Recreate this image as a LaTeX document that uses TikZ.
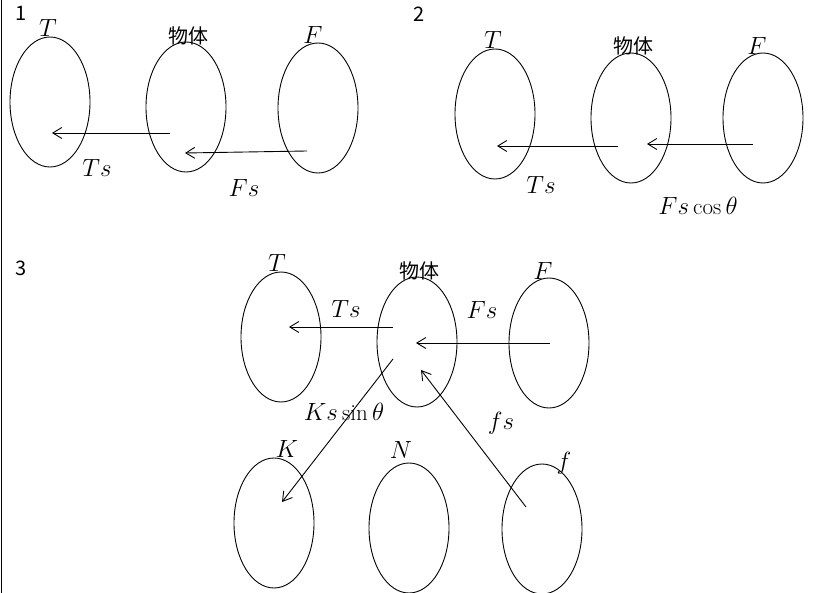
\documentclass[tikz,border=0pt]{standalone}
\usepackage{fontspec}
\newfontfamily\jp{Noto Sans CJK JP}
\usetikzlibrary{arrows.meta,shapes.geometric}

\begin{document}
\begin{tikzpicture}[x=1pt,y=-1pt,
  el/.style={draw,ellipse,line width=0.9pt,minimum width=80pt,minimum height=130pt,inner sep=0pt},
  lb/.style={inner sep=0pt,font=\fontsize{23}{27}\selectfont},
  jl/.style={inner sep=0pt,font=\fontsize{20}{24}\selectfont\jp},
  ar/.style={-{Straight Barb[length=9pt,width=11pt,line width=0.9pt]},line width=0.9pt}]
\useasboundingbox (0,0) rectangle (817,593);
\draw[line width=1.5pt] (1.5,0) -- (1.5,593);
% 1
\node[jl] (no1) at (21,13)  {1};
\node[el] (t1) at (50,102)  {};
\node[el] (b1) at (186,107) {};
\node[el] (f1) at (318,108) {};
\node[lb] (tn1) at (48,28)  {$T$};
\node[jl] (bn1) at (188,36) {物体};
\node[lb] (fn1) at (313,35) {$F$};
\coordinate (b1a) at (170,133);
\coordinate (t1a) at (52,133);
\coordinate (f1a) at (307,151);
\coordinate (b1b) at (185,153);
\draw[ar] (b1a) -- (t1a);
\draw[ar] (f1a) -- (b1b);
\node[lb] (ts1) at (97,168)  {$Ts$};
\node[lb] (fs1) at (244,188) {$Fs$};
% 2
\node[jl] (no2) at (419,14)  {2};
\node[el] (t2) at (495,114) {};
\node[el] (b2) at (631,118) {};
\node[el] (f2) at (763,118) {};
\node[lb] (tn2) at (493,40)  {$T$};
\node[jl] (bn2) at (633,46) {物体};
\node[lb] (fn2) at (757,46) {$F$};
\coordinate (b2a) at (618,146);
\coordinate (t2a) at (497,146);
\coordinate (f2a) at (753,144);
\coordinate (b2b) at (647,144);
\draw[ar] (b2a) -- (t2a);
\draw[ar] (f2a) -- (b2b);
\node[lb] (ts2) at (541,185) {$Ts$};
\node[lb] (fs2) at (698,206) {$Fs\cos\theta$};
% 3
\node[jl] (no3) at (21,268) {3};
\node[el] (t3) at (281,337) {};
\node[el] (b3) at (417,342) {};
\node[el] (f3) at (549,343) {};
\node[el] (k3) at (274,523) {};
\node[el] (n3) at (409,528) {};
\node[el] (r3) at (542,529) {};
\node[lb] (tn3) at (277,263) {$T$};
\node[jl] (bn3) at (419,271) {物体};
\node[lb] (fn3) at (543,271) {$F$};
\node[lb] (kn3) at (287,449) {$K$};
\node[lb] (nn3) at (401,450) {$N$};
\node[lb] (rn3) at (564,463) {$f$};
\coordinate (b3a) at (393,327);
\coordinate (t3a) at (289,327);
\coordinate (f3a) at (550,343);
\coordinate (b3b) at (416,343);
\coordinate (b3c) at (393,359);
\coordinate (k3a) at (282,502);
\coordinate (r3a) at (526,507);
\coordinate (b3d) at (421,370);
\draw[ar] (b3a) -- (t3a);
\draw[ar] (f3a) -- (b3b);
\draw[ar] (b3c) -- (k3a);
\draw[ar] (r3a) -- (b3d);
\node[lb] (ts3) at (346,309) {$Ts$};
\node[lb] (fs3) at (482,310) {$Fs$};
\node[lb] (ks3) at (344,412) {$Ks\sin\theta$};
\node[lb] (rs3) at (501,423) {$fs$};
\end{tikzpicture}
\end{document}
